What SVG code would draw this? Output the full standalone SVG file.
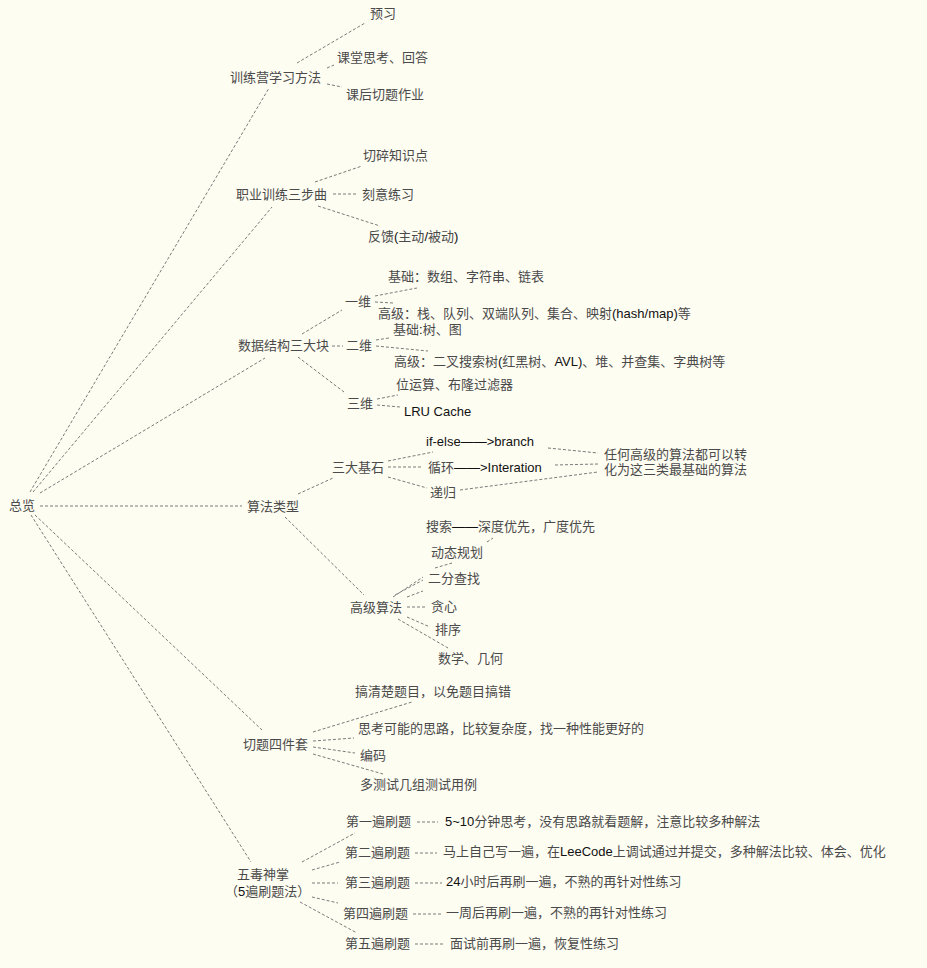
<svg xmlns="http://www.w3.org/2000/svg" width="927" height="968" viewBox="0 0 927 968">
<style>
text{font-family:"Liberation Serif","Noto Sans CJK SC",serif;font-size:13px;fill:#4a4a4a}
.l{font-family:"Liberation Sans","Noto Sans CJK SC",sans-serif;fill:#111}
#connectors line{stroke:#7a7a7a;stroke-width:1;stroke-dasharray:3 2;fill:none}
</style>
<rect x="0" y="0" width="927" height="968" fill="#fefdf2"/>
<g id="connectors">
<line x1="30" y1="492" x2="269" y2="88"/>
<line x1="33" y1="492" x2="272" y2="207"/>
<line x1="40" y1="493" x2="265" y2="358"/>
<line x1="40" y1="506" x2="242" y2="506"/>
<line x1="35" y1="515" x2="262" y2="730"/>
<line x1="31" y1="515" x2="251" y2="862"/>
<line x1="297" y1="63" x2="365" y2="23"/>
<line x1="327" y1="68" x2="334" y2="65"/>
<line x1="327" y1="84" x2="342" y2="87"/>
<line x1="315" y1="182" x2="362" y2="166"/>
<line x1="333" y1="194" x2="357" y2="194"/>
<line x1="318" y1="206" x2="380" y2="226"/>
<line x1="302" y1="334" x2="342" y2="310"/>
<line x1="375" y1="296" x2="417" y2="288"/>
<line x1="375" y1="302" x2="393" y2="303"/>
<line x1="332" y1="346" x2="343" y2="346"/>
<line x1="376" y1="340" x2="389" y2="338"/>
<line x1="376" y1="346" x2="428" y2="351"/>
<line x1="298" y1="357" x2="344" y2="392"/>
<line x1="377" y1="399" x2="398" y2="395"/>
<line x1="377" y1="405" x2="400" y2="407"/>
<line x1="298" y1="494" x2="333" y2="478"/>
<line x1="285" y1="517" x2="364" y2="595"/>
<line x1="388" y1="461" x2="433" y2="452"/>
<line x1="388" y1="467" x2="422" y2="467"/>
<line x1="388" y1="477" x2="427" y2="488"/>
<line x1="548" y1="448" x2="598" y2="453"/>
<line x1="555" y1="465" x2="598" y2="464"/>
<line x1="460" y1="490" x2="598" y2="472"/>
<line x1="487" y1="542" x2="493" y2="538"/>
<line x1="435" y1="568" x2="452" y2="563"/>
<line x1="393" y1="597" x2="423" y2="577"/>
<line x1="395" y1="595" x2="423" y2="580"/>
<line x1="407" y1="597" x2="423" y2="591"/>
<line x1="407" y1="607" x2="425" y2="607"/>
<line x1="407" y1="617" x2="430" y2="627"/>
<line x1="398" y1="619" x2="448" y2="648"/>
<line x1="313" y1="732" x2="412" y2="702"/>
<line x1="313" y1="741" x2="354" y2="738"/>
<line x1="313" y1="747" x2="355" y2="753"/>
<line x1="313" y1="754" x2="383" y2="774"/>
<line x1="302" y1="862" x2="355" y2="833"/>
<line x1="312" y1="870" x2="340" y2="862"/>
<line x1="312" y1="883" x2="338" y2="883"/>
<line x1="312" y1="897" x2="338" y2="903"/>
<line x1="300" y1="902" x2="357" y2="933"/>
<line x1="417" y1="822" x2="438" y2="822"/>
<line x1="415" y1="853" x2="437" y2="853"/>
<line x1="415" y1="883" x2="442" y2="883"/>
<line x1="413" y1="914" x2="442" y2="914"/>
<line x1="415" y1="944" x2="445" y2="944"/>
</g>
<g id="root"><text x="9" y="510">总览</text></g>
<g id="n1"><text x="230" y="82">训练营学习方法</text></g>
<g id="n1a"><text x="370" y="18">预习</text></g>
<g id="n1b"><text x="337" y="62">课堂思考、回答</text></g>
<g id="n1c"><text x="346" y="99">课后切题作业</text></g>
<g id="n2"><text x="236" y="199">职业训练三步曲</text></g>
<g id="n2a"><text x="363" y="160">切碎知识点</text></g>
<g id="n2b"><text x="362" y="199">刻意练习</text></g>
<g id="n2c"><text x="368" y="241">反馈<tspan class="l">(</tspan>主动<tspan class="l">/</tspan>被动<tspan class="l">)</tspan></text></g>
<g id="n3"><text x="238" y="350">数据结构三大块</text></g>
<g id="n3a"><text x="345" y="306">一维</text></g>
<g id="n3a1"><text x="388" y="281">基础：数组、字符串、链表</text></g>
<g id="n3a2"><text x="378" y="318">高级：栈、队列、双端队列、集合、映射<tspan class="l">(hash/map)</tspan>等</text></g>
<g id="n3b"><text x="346" y="350">二维</text></g>
<g id="n3b1"><text x="393" y="334">基础<tspan class="l">:</tspan>树、图</text></g>
<g id="n3b2"><text x="394" y="366">高级：二叉搜索树<tspan class="l">(</tspan>红黑树、<tspan class="l">AVL)</tspan>、堆、并查集、字典树等</text></g>
<g id="n3c"><text x="347" y="408">三维</text></g>
<g id="n3c1"><text x="396" y="389">位运算、布隆过滤器</text></g>
<g id="n3c2"><text class="l" x="404" y="416">LRU Cache</text></g>
<g id="n4"><text x="247" y="511">算法类型</text></g>
<g id="n4a"><text x="332" y="472">三大基石</text></g>
<g id="n4a1"><text class="l" x="426" y="446">if-else——&gt;branch</text></g>
<g id="n4a2"><text x="428" y="472">循环<tspan class="l">——&gt;Interation</tspan></text></g>
<g id="n4a3"><text x="430" y="497">递归</text></g>
<g id="n4a4"><text x="604" y="459">任何高级的算法都可以转</text><text x="604" y="474">化为这三类最基础的算法</text></g>
<g id="n4b"><text x="350" y="612">高级算法</text></g>
<g id="n4b1"><text x="426" y="531">搜索<tspan class="l">——</tspan>深度优先，广度优先</text></g>
<g id="n4b2"><text x="431" y="557">动态规划</text></g>
<g id="n4b3"><text x="428" y="583">二分查找</text></g>
<g id="n4b4"><text x="431" y="611">贪心</text></g>
<g id="n4b5"><text x="435" y="634">排序</text></g>
<g id="n4b6"><text x="438" y="663">数学、几何</text></g>
<g id="n5"><text x="243" y="749">切题四件套</text></g>
<g id="n5a"><text x="355" y="696">搞清楚题目，以免题目搞错</text></g>
<g id="n5b"><text x="358" y="733">思考可能的思路，比较复杂度，找一种性能更好的</text></g>
<g id="n5c"><text x="360" y="760">编码</text></g>
<g id="n5d"><text x="360" y="789">多测试几组测试用例</text></g>
<g id="n6"><text x="237" y="879">五毒神掌</text><text x="225" y="896">（<tspan class="l">5</tspan>遍刷题法）</text></g>
<g id="n6a"><text x="346" y="826">第一遍刷题</text></g>
<g id="n6b"><text x="345" y="857">第二遍刷题</text></g>
<g id="n6c"><text x="345" y="887">第三遍刷题</text></g>
<g id="n6d"><text x="343" y="918">第四遍刷题</text></g>
<g id="n6e"><text x="345" y="948">第五遍刷题</text></g>
<g id="n6a1"><text x="445" y="826"><tspan class="l">5~10</tspan>分钟思考，没有思路就看题解，注意比较多种解法</text></g>
<g id="n6b1"><text x="443" y="856">马上自己写一遍，在<tspan class="l">LeeCode</tspan>上调试通过并提交，多种解法比较、体会、优化</text></g>
<g id="n6c1"><text x="446" y="886"><tspan class="l">24</tspan>小时后再刷一遍，不熟的再针对性练习</text></g>
<g id="n6d1"><text x="446" y="917">一周后再刷一遍，不熟的再针对性练习</text></g>
<g id="n6e1"><text x="450" y="948">面试前再刷一遍，恢复性练习</text></g>
</svg>
